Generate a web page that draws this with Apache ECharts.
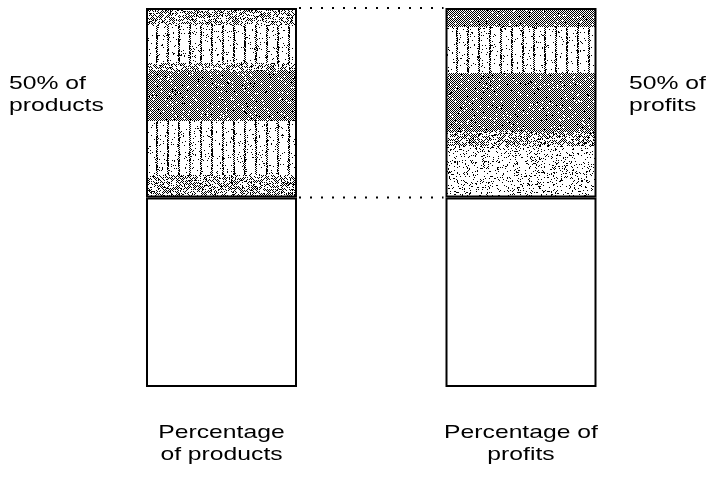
<!DOCTYPE html>
<html>
<head>
<meta charset="utf-8">
<script src="https://cdn.jsdelivr.net/npm/echarts@6/dist/echarts.min.js"></script>
<style>
  html, body { margin: 0; padding: 0; background: #fff; }
  #chart { width: 709px; height: 478px; }
</style>
</head>
<body>
<div id="chart"></div>
<script>
// ---- data ----
const categories = ['Percentage\nof products', 'Percentage of\nprofits'];
const lowerShare = [50, 50];   // remaining 50%
const upperShare = [50, 50];   // the highlighted 50%
const sideLabels = ['50% of\nproducts', '50% of\nprofits'];

// ---- texture bands (fraction of upper segment, style) ----
const textureBands = [
  [[0, 0.09, 'mixed'], [0.09, 0.29, 'streak'], [0.29, 0.33, 'mixed'], [0.33, 0.59, 'checker'], [0.59, 0.87, 'streak'], [0.87, 1.01, 'mixed']],
  [[0, 0.10, 'checker'], [0.10, 0.34, 'streak'], [0.34, 0.65, 'checker'], [0.65, 0.72, 'mixed'], [0.72, 1.01, 'speckle']]
];

const BAR_W = 151;
const FONT = '19px "Liberation Sans", Arial, Helvetica, sans-serif';
const SX = 1.3;

function hash(x, y, s) {
  let h = (x * 374761393 + y * 668265263 + s * 2147483647) >>> 0;
  h = ((h ^ (h >>> 13)) * 1274126177) >>> 0;
  return ((h ^ (h >>> 16)) >>> 0) % 1000 / 1000;
}

function makeTexture(w, h, bands, seed) {
  const c = document.createElement('canvas');
  c.width = w; c.height = h;
  const ctx = c.getContext('2d');
  const img = ctx.createImageData(w, h);
  for (let y = 0; y < h; y++) {
    const f = y / h;
    const band = bands.find(b => f >= b[0] && f < b[1]);
    const type = band ? band[2] : 'checker';
    for (let x = 0; x < w; x++) {
      const checker = (x + y) % 2 === 0;
      const r = hash(x, y, seed);
      let dark;
      if (type === 'checker') dark = checker ? r > 0.04 : r < 0.02;
      else if (type === 'streak') dark = ((x % 11) < 2 && (checker || r < 0.3)) || r < 0.05;
      else if (type === 'mixed') dark = checker ? r > 0.4 : r < 0.06;
      else dark = r < 0.13;
      const i = (y * w + x) * 4;
      const v = dark ? 0 : 255;
      img.data[i] = v; img.data[i + 1] = v; img.data[i + 2] = v; img.data[i + 3] = 255;
    }
  }
  ctx.putImageData(img, 0, 0);
  return c;
}

const chart = echarts.init(document.getElementById('chart'), null, { renderer: 'canvas' });

const baseOption = {
  animation: false,
  backgroundColor: '#fff',
  grid: { left: 71.75, right: 38.25, top: 8, bottom: 91, containLabel: false },
  xAxis: {
    type: 'category',
    data: categories,
    axisLine: { show: false }, axisTick: { show: false }, axisLabel: { show: false },
    splitLine: { show: false }
  },
  yAxis: {
    type: 'value', min: 0, max: 100,
    axisLine: { show: false }, axisTick: { show: false }, axisLabel: { show: false },
    splitLine: { show: false }
  },
  series: [
    {
      name: 'rest', type: 'bar', stack: 's', barWidth: BAR_W, data: lowerShare,
      itemStyle: { color: '#fff', borderColor: '#000', borderWidth: 2 }
    },
    {
      name: 'half', type: 'bar', stack: 's', barWidth: BAR_W, data: upperShare,
      itemStyle: { color: '#999', borderColor: '#000', borderWidth: 2 }
    }
  ]
};
chart.setOption(baseOption);

// positions from the chart's scales
const yTop = chart.convertToPixel({ yAxisIndex: 0 }, lowerShare[0] + upperShare[0]);
const yMid = chart.convertToPixel({ yAxisIndex: 0 }, lowerShare[0]);
const xc = categories.map(c => chart.convertToPixel({ xAxisIndex: 0 }, c));
const segH = Math.round(yMid - yTop);

const upperData = upperShare.map((v, i) => {
  const left = Math.round(xc[i] - BAR_W / 2);
  return {
    value: v,
    itemStyle: {
      color: {
        image: makeTexture(BAR_W + 2, segH + 2, textureBands[i], i + 1),
        repeat: 'no-repeat',
        x: left - 1, y: Math.round(yTop) - 1
      }
    }
  };
});

const graphics = [];
// dotted connectors
[yTop, yMid].forEach(yy => {
  graphics.push({
    type: 'line', silent: true,
    shape: { x1: xc[0] + BAR_W / 2 + 2, y1: yy, x2: xc[1] - BAR_W / 2 - 2, y2: yy },
    style: { stroke: '#000', lineWidth: 2, lineDash: [2, 9] }
  });
});
// category labels under bars
categories.forEach((c, i) => {
  graphics.push({
    type: 'text', x: xc[i], y: 422, scaleX: SX,
    style: { text: c, font: FONT, fill: '#000', align: 'center', verticalAlign: 'top', lineHeight: 22 }
  });
});
// side labels
graphics.push({
  type: 'text', x: 9, y: 73, scaleX: SX,
  style: { text: sideLabels[0], font: FONT, fill: '#000', align: 'left', verticalAlign: 'top', lineHeight: 22 }
});
graphics.push({
  type: 'text', x: 629, y: 73, scaleX: SX,
  style: { text: sideLabels[1], font: FONT, fill: '#000', align: 'left', verticalAlign: 'top', lineHeight: 22 }
});

chart.setOption({
  series: [{}, { data: upperData }],
  graphic: { elements: graphics }
});
</script>
</body>
</html>
